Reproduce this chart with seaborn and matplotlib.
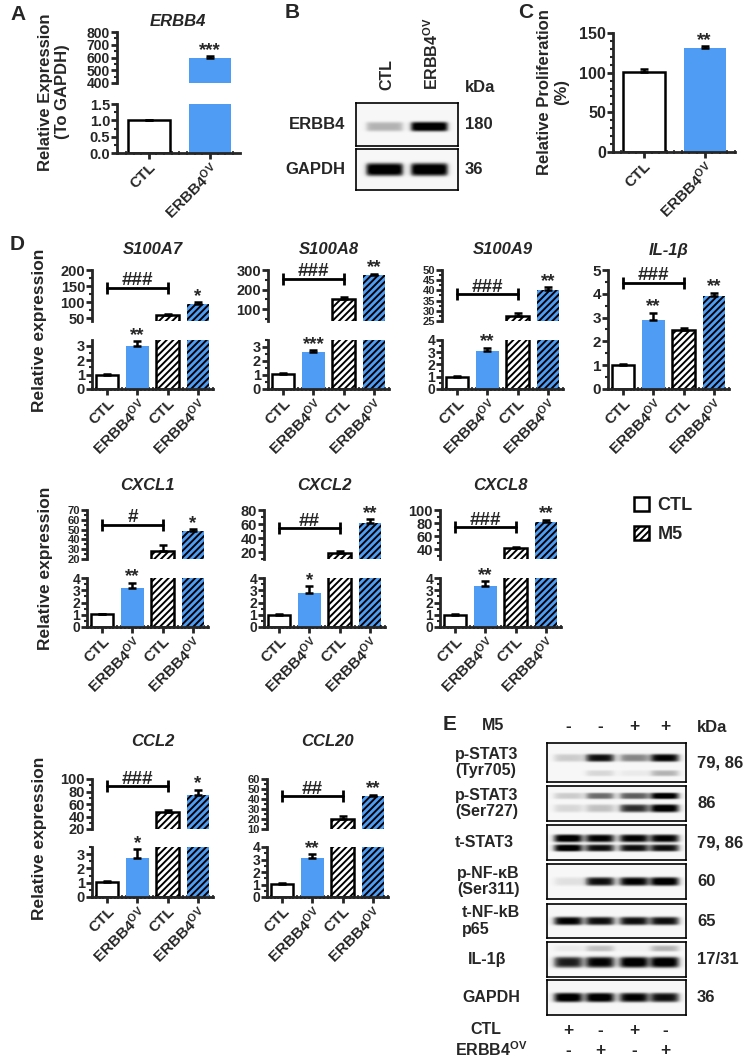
import numpy as np
import pandas as pd
import seaborn as sns
import matplotlib.pyplot as plt
from matplotlib.ticker import MultipleLocator, AutoMinorLocator
from matplotlib.patches import Patch

sns.set_theme(style="ticks")
plt.rcParams['font.family'] = ['Liberation Sans', 'DejaVu Sans']
plt.rcParams['font.weight'] = 'bold'
plt.rcParams['mathtext.fontset'] = 'custom'
plt.rcParams['mathtext.rm'] = 'Liberation Sans:bold'
plt.rcParams['mathtext.bf'] = 'Liberation Sans:bold'
plt.rcParams['mathtext.it'] = 'Liberation Sans:bold:italic'
plt.rcParams['hatch.linewidth'] = 1.4

BLUE = '#4F9CF5'
OV = r'ERBB4$^{\mathrm{OV}}$'

# ---- data ----
a_groups = ['CTL', OV]
a_means = [1.0, 594]
a_errs = [0.02, 18]

c_groups = ['CTL', OV]
c_means = [100.5, 131.6]
c_errs = [4.0, 1.5]

d_groups = ['CTL', OV, 'CTL', OV]
d_genes = ['S100A7', 'S100A8', 'S100A9', 'IL-1β', 'CXCL1', 'CXCL2', 'CXCL8', 'CCL2', 'CCL20']
d_means = [
    [1.0, 3.0, 60, 96],
    [1.05, 2.65, 150, 273],
    [1.0, 3.08, 27.5, 40.3],
    [1.0, 2.89, 2.46, 3.9],
    [1.05, 3.17, 28.5, 49],
    [1.0, 2.76, 18, 62],
    [1.0, 3.37, 42, 81],
    [1.05, 2.76, 47, 75],
    [1.05, 3.09, 19.6, 42.8],
]
d_errs = [
    [0.03, 0.3, 4, 5],
    [0.08, 0.1, 12, 8],
    [0.03, 0.3, 1.2, 1.2],
    [0.05, 0.32, 0.1, 0.15],
    [0.05, 0.45, 5.5, 1.5],
    [0.05, 0.55, 4, 5],
    [0.1, 0.4, 1, 4],
    [0.04, 0.6, 4, 8],
    [0.05, 0.35, 3, 1.5],
]
d_top_ylim = [(42, 200), (40, 300), (25, 50), None, (20, 70), (10, 80), (25, 100), (20, 100), (10, 60)]
d_top_ticks = [range(50, 201, 50), range(100, 301, 100), range(25, 51, 5), None,
               range(20, 71, 10), range(20, 81, 20), range(40, 101, 20), range(20, 101, 20), range(10, 61, 10)]
d_bot_ymax = [3.4, 3.5, 4, 5, 4, 4, 4, 3.5, 4]
d_bot_ticks = [range(0, 4), range(0, 4), range(0, 5), range(0, 6), range(0, 5), range(0, 5), range(0, 5), range(0, 4), range(0, 5)]
d_star1 = ['**', '***', '**', '**', '**', '*', '**', '*', '**']
d_star3 = ['*', '**', '**', '**', '*', '**', '**', '*', '**']
d_hash = ['###', '###', '###', '###', '#', '##', '###', '###', '##']
d_bracket = [144, 256, 38, 4.45, 55, 54, 73.5, 88.5, 42.8]

legend_labels = ['CTL', 'M5']

b_rows = ['ERBB4', 'GAPDH']
b_kda = ['180', '36']
b_lanes = ['CTL', OV]
b_bands = [
    [(0.55, 0.10, [0.35, 1.0])],
    [(0.50, 0.14, [1.0, 1.0])],
]

e_rows = ['p-STAT3\n(Tyr705)', 'p-STAT3\n(Ser727)', 't-STAT3', 'p-NF-κB\n(Ser311)',
          't-NF-kB\np65', 'IL-1β', 'GAPDH']
e_kda = ['79, 86', '86', '79, 86', '60', '65', '17/31', '36']
e_m5 = ['-', '-', '+', '+']
e_ctl = ['+', '-', '+', '-']
e_ov = ['-', '+', '-', '+']
e_bands = [
    [(0.38, 0.09, [0.25, 0.9, 0.5, 0.95]), (0.78, 0.07, [0.0, 0.2, 0.1, 0.35])],
    [(0.30, 0.08, [0.25, 0.6, 0.65, 1.0]), (0.65, 0.10, [0.2, 0.3, 0.8, 1.0])],
    [(0.38, 0.10, [1.0, 0.95, 0.95, 0.95]), (0.66, 0.09, [1.0, 0.9, 0.9, 0.9])],
    [(0.50, 0.11, [0.15, 0.9, 0.95, 1.0])],
    [(0.50, 0.11, [0.95, 0.9, 0.9, 0.9])],
    [(0.58, 0.14, [0.85, 0.95, 1.0, 1.0]), (0.18, 0.08, [0.1, 0.3, 0.05, 0.35])],
    [(0.50, 0.12, [1.0, 1.0, 0.95, 0.9])],
]

# ---- layout helpers ----
W, H = 748, 1062
fig = plt.figure(figsize=(W / 100, H / 100), dpi=100)


def add_ax(l, t, r, b):
    return fig.add_axes([l / W, 1 - b / H, (r - l) / W, (b - t) / H])


def ftext(x, y, s, **kw):
    kw.setdefault('fontweight', 'bold')
    return fig.text(x / W, 1 - y / H, s, **kw)


def draw_bars(ax, vals, errs, faces, lws, hatches, width):
    df = pd.DataFrame({'pos': range(len(vals)), 'val': vals})
    sns.barplot(data=df, x='pos', y='val', ax=ax, width=width, color='white',
                errorbar=None, saturation=1)
    for p, fc, lw, h in zip(ax.patches, faces, lws, hatches):
        p.set_facecolor(fc)
        p.set_edgecolor('black' if (lw > 0 or h) else fc)
        p.set_linewidth(lw)
        if h:
            p.set_hatch(h)
            try:
                p.set_hatchcolor('black')
            except AttributeError:
                pass
    ax.errorbar(range(len(vals)), vals, yerr=[np.zeros(len(vals)), errs], fmt='none',
                ecolor='black', elinewidth=1.8, capsize=3, capthick=1.8, zorder=5)
    ax.set_xlabel('')
    ax.set_ylabel('')


def style_ax(ax, bottom=True, labelsize=10.5):
    sns.despine(ax=ax, bottom=not bottom)
    ax.set_facecolor('none')
    for s in ['left', 'bottom']:
        ax.spines[s].set_linewidth(2.0)
    ax.tick_params(axis='y', which='major', length=4, width=2.0, labelsize=labelsize, pad=1)
    ax.tick_params(axis='y', which='minor', length=2.5, width=1.5)
    ax.yaxis.set_minor_locator(AutoMinorLocator(2))
    if bottom:
        ax.tick_params(axis='x', which='major', length=4, width=2.0, labelsize=11, pad=1)
        ax.xaxis.set_minor_locator(MultipleLocator(0.125))
        ax.tick_params(axis='x', which='minor', length=3, width=1.2, direction='inout')
    else:
        ax.tick_params(axis='x', which='both', bottom=False, labelbottom=False)


def xlabels(ax, labels):
    ax.set_xticks(range(len(labels)))
    ax.set_xticklabels(labels, rotation=45, ha='right', rotation_mode='anchor', fontsize=11)


def star(ax, x, y, s, size=13.5, dy=-2):
    ax.annotate(s, (x, y), xytext=(0, dy), textcoords='offset points', ha='center',
                va='bottom', fontsize=size, fontweight='bold', annotation_clip=False)


# ---- panel A ----
ftext(10, 14, 'A', fontsize=15, va='center')
a_top = add_ax(117, 32, 240, 83)
a_bot = add_ax(117, 104, 240, 153)
for ax in (a_top, a_bot):
    draw_bars(ax, a_means, a_errs, ['white', BLUE], [1.8, 0], [None, None], 0.69)
    ax.set_xlim(-0.52, 1.49)
a_top.set_ylim(400, 800)
a_top.set_yticks(range(400, 801, 100))
a_bot.set_ylim(0, 1.5)
a_bot.set_yticks([0, 0.5, 1.0, 1.5])
a_bot.set_yticklabels(['0.0', '0.5', '1.0', '1.5'])
style_ax(a_top, bottom=False, labelsize=10)
style_ax(a_bot)
xlabels(a_bot, a_groups)
star(a_top, 1, a_means[1] + a_errs[1], '***')
ftext(178, 22, 'ERBB4', fontsize=12, style='italic', ha='center', va='center')
ftext(54, 92, 'Relative Expression\n(To GAPDH)', fontsize=12, rotation=90, ha='center', va='center')

# ---- panel C ----
ftext(518, 12, 'C', fontsize=15, va='center')
c_ax = add_ax(613, 33, 735, 152)
draw_bars(c_ax, c_means, c_errs, ['white', BLUE], [1.8, 0], [None, None], 0.69)
c_ax.set_xlim(-0.51, 1.5)
c_ax.set_ylim(0, 150)
c_ax.set_yticks([0, 50, 100, 150])
style_ax(c_ax, labelsize=11.5)
c_ax.yaxis.set_minor_locator(AutoMinorLocator(5))
xlabels(c_ax, c_groups)
star(c_ax, 1, c_means[1] + c_errs[1], '**')
ftext(553, 92, 'Relative Proliferation\n(%)', fontsize=12, rotation=90, ha='center', va='center')


# ---- blots ----
def draw_blot(ax, bands, lane_x, lane_w):
    ny, nx = 60, 240
    xs = np.linspace(0, 1, nx)
    ys = np.linspace(0, 1, ny)
    img = np.full((ny, nx), 0.06)
    for yc, sig, vals in bands:
        py = np.exp(-0.5 * ((ys - yc) / sig) ** 4)
        for xc, v in zip(lane_x, vals):
            px = 1 / (1 + np.exp(-(xs - (xc - lane_w / 2)) / 0.015)) * \
                 1 / (1 + np.exp((xs - (xc + lane_w / 2)) / 0.015))
            img += v * np.outer(py, px)
    ax.imshow(np.clip(img, 0, 1), cmap='Greys', vmin=0, vmax=1, aspect='auto',
              extent=(0, 1, 1, 0), interpolation='bilinear')
    ax.set_xticks([])
    ax.set_yticks([])
    for s in ax.spines.values():
        s.set_visible(True)
        s.set_linewidth(1.2)
        s.set_color('black')


# ---- panel B ----
ftext(285, 12, 'B', fontsize=15, va='center')
b_boxes = [(103, 146), (149, 190)]
for (t, b), bands, name, kda in zip(b_boxes, b_bands, b_rows, b_kda):
    ax = add_ax(356, t, 458, b)
    draw_blot(ax, bands, [0.28, 0.72], 0.36)
    ftext(345, (t + b) / 2, name, fontsize=12, ha='right', va='center')
    ftext(465, (t + b) / 2, kda, fontsize=12, ha='left', va='center')
for x, lab in zip([387, 432], b_lanes):
    ftext(x, 90, lab, fontsize=11.5, rotation=90, ha='center', va='bottom')
ftext(465, 88, 'kDa', fontsize=12, ha='left', va='center')

# ---- panel D ----
ftext(10, 245, 'D', fontsize=15, va='center')
d_layout = [
    (92, 270, 321, 340, 389, 250), (268, 270, 321, 340, 389, 250),
    (442, 270, 321, 340, 389, 250), (608, 270, None, None, 389, 250),
    (87, 510, 559, 578, 627, 485), (264, 510, 559, 578, 627, 485),
    (440, 510, 559, 578, 627, 485),
    (92, 779, 829, 847, 897, 742), (267, 779, 829, 847, 897, 742),
]
faces = ['white', BLUE, 'white', BLUE]
lws = [1.8, 0, 1.8, 0]
hatches = [None, None, '/////', '/////']
for i, gene in enumerate(d_genes):
    l, t1, b1, t2, b2, ty = d_layout[i]
    r = l + 121
    m, e = d_means[i], d_errs[i]
    crowded = len(d_top_ticks[i] or []) > 5
    if d_top_ylim[i] is None:
        ax = add_ax(l, t1, r, b2)
        draw_bars(ax, m, e, faces, lws, hatches, 0.75)
        ax.set_xlim(-0.5, 3.5)
        ax.set_ylim(0, d_bot_ymax[i])
        ax.set_yticks(list(d_bot_ticks[i]))
        style_ax(ax, labelsize=11)
        xlabels(ax, d_groups)
        star(ax, 1, m[1] + e[1], d_star1[i])
        star(ax, 3, m[3] + e[3], d_star3[i])
        top = ax
    else:
        top = add_ax(l, t1, r, b1)
        bot = add_ax(l, t2, r, b2)
        for ax in (top, bot):
            draw_bars(ax, m, e, faces, lws, hatches, 0.75)
            ax.set_xlim(-0.5, 3.5)
        top.set_ylim(*d_top_ylim[i])
        top.set_yticks(list(d_top_ticks[i]))
        bot.set_ylim(0, d_bot_ymax[i])
        bot.set_yticks(list(d_bot_ticks[i]))
        style_ax(top, bottom=False, labelsize=8 if crowded else 10.5)
        style_ax(bot, labelsize=10 if len(d_bot_ticks[i]) > 4 else 10.5)
        xlabels(bot, d_groups)
        star(bot, 1, m[1] + e[1], d_star1[i])
        star(top, 3, m[3] + e[3], d_star3[i])
    by = d_bracket[i]
    top.plot([0, 2], [by, by], color='black', lw=2.0, marker='|', markersize=9, mew=2.0,
             clip_on=False, zorder=6)
    star(top, 1, by, d_hash[i], size=13.5, dy=-1)
    ftext((l + r) / 2, ty, gene, fontsize=12, style='italic', ha='center', va='center')

for x, y in [(40, 330), (46, 568), (40, 838)]:
    ftext(x, y, 'Relative expression', fontsize=12.5, rotation=90, ha='center', va='center')

fig.legend(handles=[Patch(facecolor='white', edgecolor='black', lw=1.8, label=legend_labels[0]),
                    Patch(facecolor='white', edgecolor='black', lw=1.8, hatch='/////',
                          label=legend_labels[1])],
           loc='upper left', bbox_to_anchor=(618 / W, 1 - 481 / H), frameon=False,
           prop={'size': 13, 'weight': 'bold'}, handlelength=0.8, handleheight=0.8,
           handletextpad=0.5, labelspacing=0.65)

# ---- panel E ----
ftext(443, 725, 'E', fontsize=15, va='center')
lane_x = [568, 600, 634, 665]
ftext(482, 725, 'M5', fontsize=11.5, ha='left', va='center')
ftext(697, 727, 'kDa', fontsize=12, ha='left', va='center')
for x, s in zip(lane_x, e_m5):
    ftext(x, 727, s, fontsize=12.5, ha='center', va='center')
e_boxes = [(743, 782), (786, 821), (825, 860), (864, 899), (904, 938), (942, 977), (980, 1015)]
e_label_x = [455, 455, 455, 457, 462, 468, 462]
box_l, box_r = 547, 686
lane_frac = [(x - box_l) / (box_r - box_l) for x in lane_x]
for (t, b), bands, name, kda, lx in zip(e_boxes, e_bands, e_rows, e_kda, e_label_x):
    ax = add_ax(box_l, t, box_r, b)
    draw_blot(ax, bands, lane_frac, 0.2)
    ftext(lx, (t + b) / 2, name, fontsize=11.5, ha='left', va='center', linespacing=1.15)
    ftext(697, (t + b) / 2, kda, fontsize=12, ha='left', va='center')
ftext(470, 1030, 'CTL', fontsize=11.5, ha='left', va='center')
ftext(455, 1050, OV, fontsize=11.5, ha='left', va='center')
for x, s1, s2 in zip(lane_x, e_ctl, e_ov):
    ftext(x, 1031, s1, fontsize=12.5, ha='center', va='center')
    ftext(x, 1051, s2, fontsize=12.5, ha='center', va='center')

fig.savefig('out.png', dpi=100)
